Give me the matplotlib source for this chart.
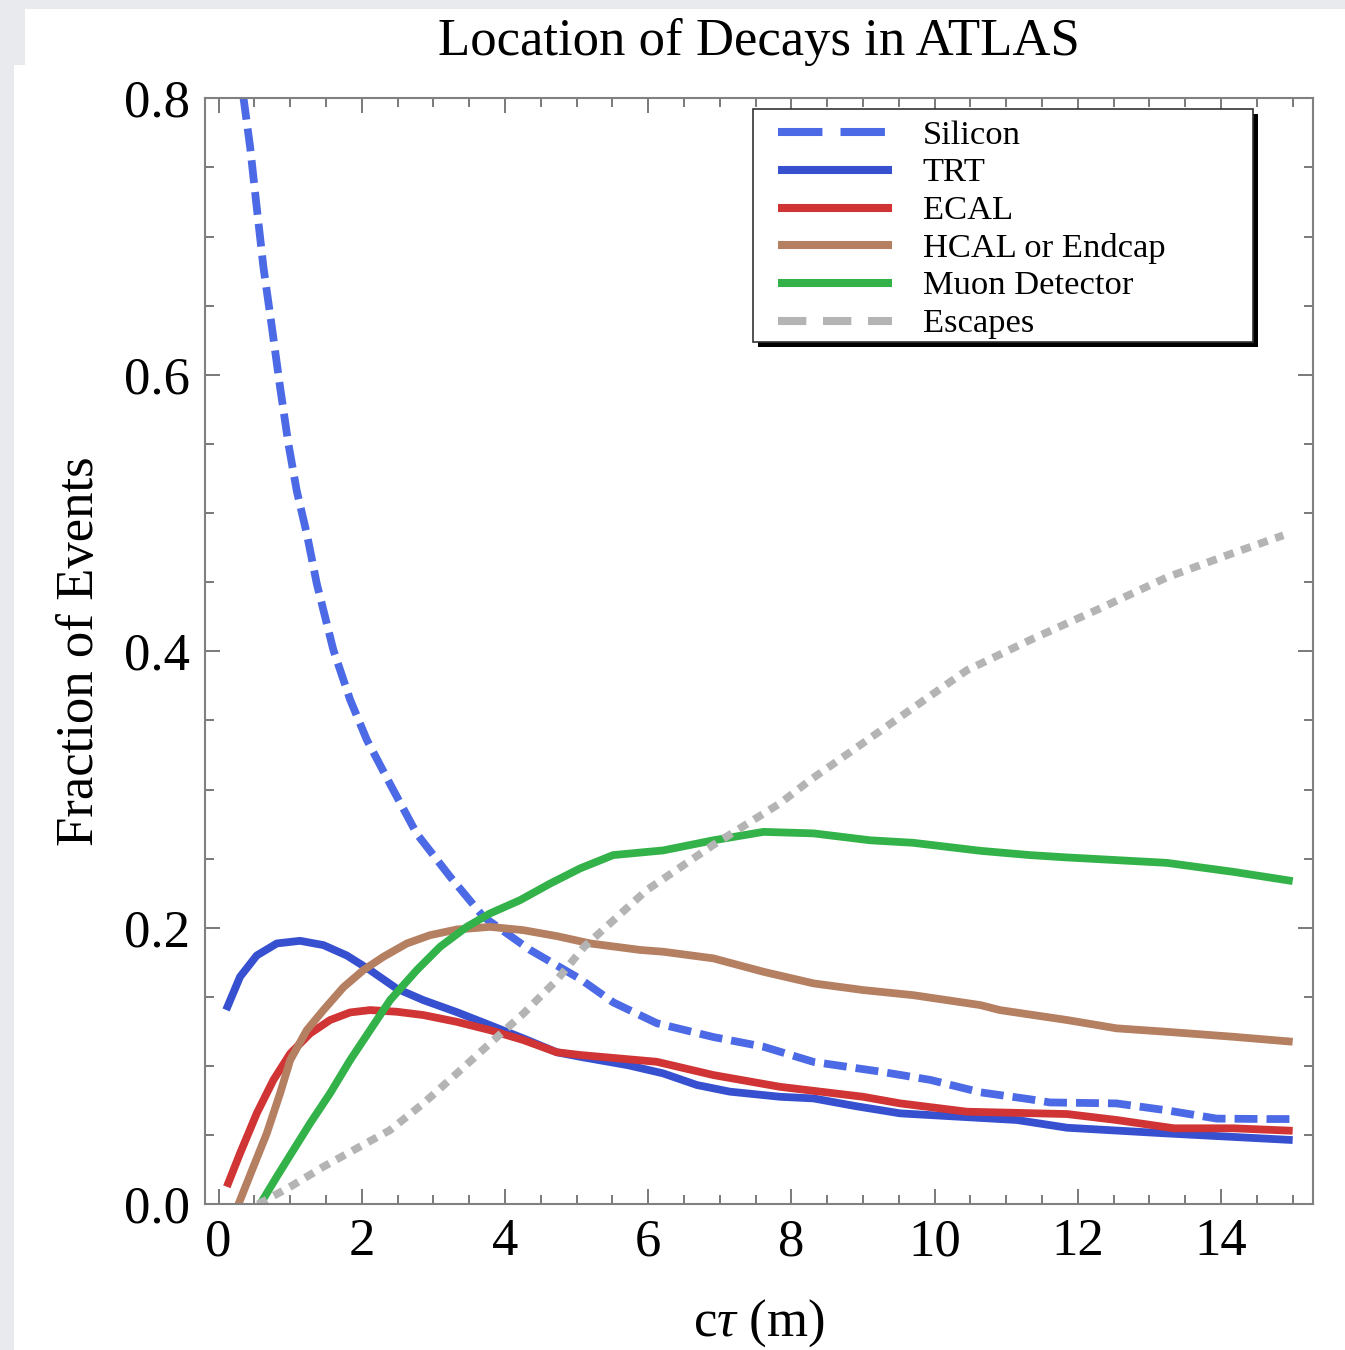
import matplotlib
matplotlib.use('Agg')
import matplotlib.pyplot as plt
from matplotlib.patches import Rectangle
from matplotlib.ticker import MultipleLocator

plt.rcParams['font.family'] = ['Liberation Serif', 'DejaVu Serif']
plt.rcParams['mathtext.fontset'] = 'custom'
plt.rcParams['mathtext.rm'] = 'Liberation Serif'
plt.rcParams['mathtext.it'] = 'Liberation Serif:italic'
plt.rcParams['lines.scale_dashes'] = False

# values (c*tau in m, fraction of events)
silicon_x = [0.346, 0.44, 0.533, 0.626, 0.743, 0.859, 0.975, 1.092, 1.232, 1.371, 1.603,
             1.837, 2.07, 2.395, 2.768, 3.233, 3.698, 4.35, 5.05, 5.514, 6.12, 6.91, 7.61,
             8.31, 9.24, 9.94, 10.64, 11.33, 11.61, 12.54, 13.24, 13.94, 14.64, 15.0]
silicon_y = [0.801, 0.765, 0.721, 0.678, 0.635, 0.591, 0.550, 0.516, 0.485, 0.449, 0.401,
             0.365, 0.336, 0.304, 0.268, 0.237, 0.208, 0.184, 0.163, 0.146, 0.131, 0.121, 0.114,
             0.103, 0.096, 0.090, 0.081, 0.076, 0.0737, 0.073, 0.068, 0.062, 0.0617, 0.0617]

trt_x = [0.105, 0.3, 0.533, 0.813, 1.138, 1.464, 1.79, 2.116, 2.489, 2.86, 3.327, 3.79,
         4.257, 4.723, 5.05, 5.72, 6.21, 6.68, 7.14, 7.84, 8.31, 8.9, 9.52, 11.15, 11.85,
         13.24, 15.0]
trt_y = [0.1406, 0.1646, 0.180, 0.1887, 0.1906, 0.1875, 0.180, 0.1694, 0.156, 0.1477, 0.139,
         0.1296, 0.120, 0.110, 0.1067, 0.1006, 0.0947, 0.0863, 0.0815, 0.0778, 0.0766, 0.071,
         0.0658, 0.061, 0.0554, 0.0513, 0.0465]

ecal_x = [0.115, 0.3, 0.533, 0.765, 1.0, 1.278, 1.557, 1.837, 2.116, 2.489, 2.86, 3.327,
          3.79, 4.257, 4.723, 5.05, 6.12, 6.91, 7.84, 9.0, 9.52, 10.45, 11.85, 12.54, 13.34,
          14.17, 15.0]
ecal_y = [0.0127, 0.0369, 0.0658, 0.0899, 0.109, 0.1236, 0.1333, 0.1388, 0.1405, 0.1393,
          0.1369, 0.132, 0.126, 0.1188, 0.110, 0.108, 0.1031, 0.0935, 0.085, 0.0778, 0.073,
          0.067, 0.0653, 0.061, 0.055, 0.055, 0.0532]

hcal_x = [0.277, 0.486, 0.673, 0.859, 1.0, 1.232, 1.464, 1.743, 2.022, 2.30, 2.63, 2.954,
          3.327, 3.79, 4.257, 4.723, 5.19, 5.887, 6.21, 6.91, 7.61, 8.31, 9.0, 9.70, 10.64,
          10.91, 11.85, 12.54, 13.24, 14.17, 15.0]
hcal_y = [0.0, 0.0272, 0.0513, 0.0803, 0.1043, 0.126, 0.1405, 0.157, 0.1694, 0.179, 0.1887,
          0.1947, 0.1988, 0.2007, 0.1983, 0.194, 0.1887, 0.184, 0.1827, 0.1779, 0.1682, 0.1598,
          0.155, 0.1513, 0.1441, 0.1405, 0.1333, 0.1273, 0.1248, 0.1212, 0.1176]

muon_x = [0.58, 0.813, 1.045, 1.278, 1.557, 1.837, 2.116, 2.395, 2.768, 3.094, 3.466, 3.79,
          4.21, 4.63, 5.05, 5.51, 6.21, 6.91, 7.61, 8.31, 9.1, 9.70, 10.64, 11.33, 11.85,
          13.24, 14.17, 15.0]
muon_y = [0.0, 0.02, 0.0393, 0.0586, 0.0803, 0.1043, 0.126, 0.1477, 0.1694, 0.1863, 0.2007,
          0.2104, 0.22, 0.232, 0.243, 0.2526, 0.256, 0.2633, 0.2694, 0.2683, 0.2633, 0.2615,
          0.2557, 0.2526, 0.2509, 0.247, 0.2405, 0.2338]

escapes_x = [0.55, 1.0, 1.464, 1.93, 2.395, 2.86, 3.327, 3.79, 4.257, 4.723, 5.1, 5.98,
             6.91, 7.84, 8.26, 8.9, 9.52, 10.45, 11.38, 12.31, 13.24, 14.17, 14.87]
escapes_y = [0.0, 0.0127, 0.0272, 0.0405, 0.0537, 0.073, 0.0947, 0.1164, 0.138, 0.1622,
             0.186, 0.2273, 0.26, 0.29, 0.3068, 0.33, 0.3526, 0.3863, 0.4093, 0.431, 0.4534,
             0.4711, 0.4839]

labels = ['Silicon', 'TRT', 'ECAL', 'HCAL or Endcap', 'Muon Detector', 'Escapes']
colors = ['#4d6ae6', '#3650d0', '#d03434', '#b57f62', '#33b24a', '#b4b4b4']
styles = [(0, (16.5, 6.5)), '-', '-', '-', '-', (0, (7.2, 5.8))]
legend_styles = [(0, (32, 13)), '-', '-', '-', '-', (0, (20.4, 12))]
series = [(silicon_x, silicon_y), (trt_x, trt_y), (ecal_x, ecal_y),
          (hcal_x, hcal_y), (muon_x, muon_y), (escapes_x, escapes_y)]

fig = plt.figure(figsize=(13.45, 13.5), dpi=100, facecolor='#e9eaee')
# screenshot-like white panels
fig.add_artist(Rectangle((0.0186, 0.9519), 0.9814, 0.0415, transform=fig.transFigure,
                         facecolor='white', edgecolor='none', zorder=-10))
fig.add_artist(Rectangle((0.0104, 0.0), 0.9896, 0.9519, transform=fig.transFigure,
                         facecolor='white', edgecolor='none', zorder=-10))

ax = fig.add_axes([0.1524, 0.1079, 0.8236, 0.8193])

for (xs, ys), c, ls in zip(series, colors, styles):
    ax.plot(xs, ys, color=c, lw=5.6, linestyle=ls, solid_capstyle='butt',
            dash_capstyle='butt', solid_joinstyle='round', dash_joinstyle='round')

ax.set_xlim(-0.19, 15.28)
ax.set_ylim(0, 0.8)
ax.xaxis.set_major_locator(MultipleLocator(2))
ax.xaxis.set_minor_locator(MultipleLocator(0.5))
ax.yaxis.set_major_locator(MultipleLocator(0.2))
ax.yaxis.set_minor_locator(MultipleLocator(0.05))
ax.tick_params(which='both', direction='in', top=True, right=True,
               color='#555555', width=1.1, labelsize=38)
ax.tick_params(which='major', length=10.8)
ax.tick_params(which='minor', length=6.5)
ax.tick_params(axis='y', pad=10.8)
ax.tick_params(axis='x', pad=10)
for sp in ax.spines.values():
    sp.set_color('#808080')
    sp.set_linewidth(1.5)

ax.set_title('Location of Decays in ATLAS', fontsize=38, pad=31)
ax.set_xlabel(r'c$\tau$ (m)', fontsize=38)
ax.xaxis.set_label_coords(0.5, -0.084)
ax.set_ylabel('Fraction of Events', fontsize=38)
ax.yaxis.set_label_coords(-0.091, 0.5)

# legend box with a hard black shadow
lx, ly, lw_, lh = 0.4947, 0.780, 0.4514, 0.210
ax.add_patch(Rectangle((lx + 0.0045, ly - 0.0045), lw_, lh, transform=ax.transAxes,
                       facecolor='black', edgecolor='none', zorder=9, clip_on=False))
ax.add_patch(Rectangle((lx, ly), lw_, lh, transform=ax.transAxes, facecolor='white',
                       edgecolor='#333333', lw=1.2, zorder=10, clip_on=False))
for i, (lab, c, ls) in enumerate(zip(labels, colors, legend_styles)):
    yy = 0.9693 - i * 0.0341
    ax.plot([0.5174, 0.6198], [yy, yy], transform=ax.transAxes, color=c, lw=5.8,
            linestyle=ls, solid_capstyle='butt', dash_capstyle='butt',
            clip_on=False, zorder=11)
    ax.text(0.648, yy - 0.0102, lab, transform=ax.transAxes, fontsize=24.8,
            va='baseline', ha='left', zorder=11)

fig.savefig('out.png', dpi=100, facecolor=fig.get_facecolor())
